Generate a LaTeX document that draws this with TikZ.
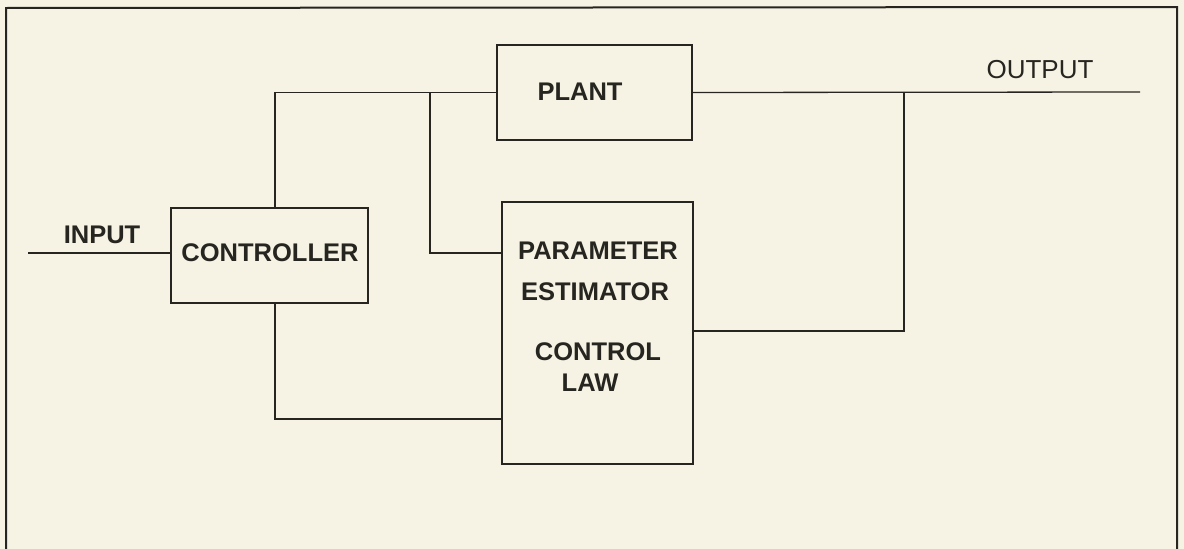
\documentclass[tikz,border=0pt]{standalone}
\usepackage{fontspec}
\setmainfont{Liberation Sans}
\definecolor{paper}{HTML}{F6F3E4}
\definecolor{ink}{HTML}{26251F}
\begin{document}
\begin{tikzpicture}[x=1pt,y=-1pt,
  blockbox/.style={draw=ink,line width=1.5pt,inner sep=0pt,outer sep=0pt},
  wire/.style={draw=ink,line width=1.3pt},
  frameline/.style={draw=ink,line width=2pt},
  lbl/.style={text=ink,inner sep=0pt,font=\fontsize{25.5}{30}\selectfont\bfseries},
  lblthin/.style={text=ink,inner sep=0pt,font=\fontsize{26}{30}\selectfont}]
\fill[paper] (0,0) rectangle (1184,549);
\useasboundingbox (0,0) rectangle (1184,549);
% outer frame (open at the bottom)
\draw[frameline] (6,549) -- (6,8) -- (1177,7) -- (1177,549);
% blocks
\node[blockbox,minimum width=195pt,minimum height=95pt] (plant) at (594.5,92.5) {};
\node[blockbox,minimum width=197pt,minimum height=95pt] (ctrl) at (269.5,255.5) {};
\node[blockbox,minimum width=191pt,minimum height=262pt] (pe) at (597.5,333) {};
% labels
\node[lbl] (tplant) at (580,92) {PLANT};
\node[lbl] (tctrl) at (270,253) {CONTROLLER};
\node[lbl] (tpar) at (598,251) {PARAMETER};
\node[lbl] (test) at (595,292) {ESTIMATOR};
\node[lbl] (tcon) at (598,352) {CONTROL};
\node[lbl] (tlaw) at (590,383) {LAW};
\node[lbl] (tin) at (102,235) {INPUT};
\node[lblthin] (tout) at (1040,70) {OUTPUT};
% coordinates
\coordinate (in) at (28,253);
\coordinate (out) at (1140,92);
\coordinate (ctop) at (275,208);
\coordinate (cbot) at (275,303);
\coordinate (j1) at (430,92);
\coordinate (j2) at (904,92);
% connectors
\draw[wire] (in) -- (in -| ctrl.west);
\draw[wire] (ctop) |- (plant.west);
\draw[wire] (j1) |- (pe.west |- 0,253);
\draw[wire] (plant.east) -- (out);
\draw[wire] (j2) |- (pe.east |- 0,331);
\draw[wire] (cbot) |- (pe.west |- 0,419);
\end{tikzpicture}
\end{document}
